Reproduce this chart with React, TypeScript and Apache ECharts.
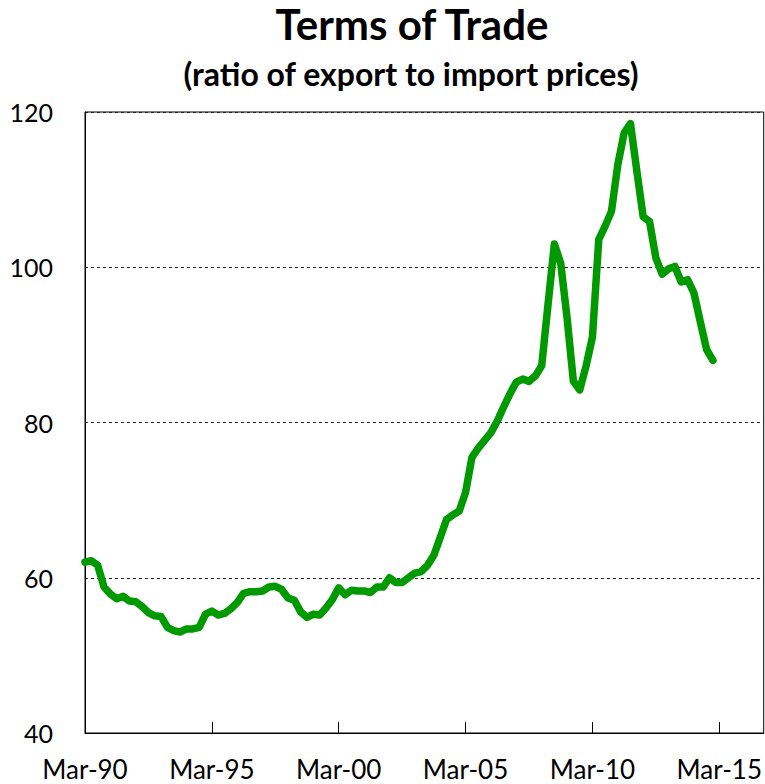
import React, { useEffect, useRef } from "react";
import * as echarts from "echarts";

const TITLE = "Terms of Trade";
const SUBTITLE = "(ratio of export to import prices)";

const MONTHS = ["Mar", "Jun", "Sep", "Dec"];
const START_YEAR = 1990;
const END_YEAR = 2016;

const categories: string[] = [];
for (let y = START_YEAR; y <= END_YEAR; y++) {
  for (const m of MONTHS) {
    categories.push(`${m}-${String(y % 100).padStart(2, "0")}`);
  }
}

const tradeValues: number[] = [
  62.0, 62.2, 61.6, 58.8, 57.9, 57.3, 57.6, 57.0, 56.9, 56.3, 55.5, 55.1,
  55.0, 53.6, 53.2, 53.0, 53.4, 53.4, 53.6, 55.3, 55.7, 55.2, 55.4, 56.0,
  56.8, 58.0, 58.2, 58.2, 58.3, 58.8, 58.9, 58.5, 57.4, 57.1, 55.6, 54.9,
  55.3, 55.2, 56.1, 57.2, 58.7, 57.8, 58.4, 58.3, 58.3, 58.1, 58.8, 58.8,
  60.0, 59.4, 59.4, 60.0, 60.6, 60.8, 61.6, 62.9, 65.2, 67.5, 68.1, 68.6,
  71.0, 75.5, 76.7, 77.7, 78.7, 80.2, 82.0, 83.7, 85.2, 85.6, 85.3, 86.0,
  87.3, 95.2, 103.0, 100.5, 93.5, 85.3, 84.2, 87.3, 91.0, 103.6, 105.3, 107.2,
  113.2, 117.3, 118.5, 112.4, 106.5, 105.9, 101.2, 99.1, 99.8, 100.1, 98.1, 98.4,
  96.7, 93.0, 89.4, 88.0,
];

const Y_MIN = 40;
const Y_MAX = 120;
const Y_STEP = 20;

const FONT = "Lato, 'Noto Sans', sans-serif";

export default function App() {
  const ref = useRef<HTMLDivElement>(null);

  useEffect(() => {
    if (!ref.current) return;
    const chart = echarts.init(ref.current, undefined, { renderer: "svg" });
    chart.setOption({
      animation: false,
      backgroundColor: "#ffffff",
      textStyle: { fontFamily: FONT },
      graphic: [
        {
          type: "text",
          x: 412,
          y: 24,
          style: {
            text: TITLE,
            fontFamily: FONT,
            fontWeight: "bold",
            fontSize: 42,
            fill: "#000",
            textAlign: "center",
            textVerticalAlign: "middle",
          },
        },
        {
          type: "text",
          x: 411,
          y: 73,
          style: {
            text: SUBTITLE,
            fontFamily: FONT,
            fontWeight: "bold",
            fontSize: 32,
            fill: "#000",
            textAlign: "center",
            textVerticalAlign: "middle",
          },
        },
      ],
      grid: {
        left: 85,
        top: 112,
        width: 681,
        height: 621,
        show: true,
        borderColor: "#000",
        borderWidth: 1,
        backgroundColor: "transparent",
      },
      xAxis: {
        type: "category",
        data: categories,
        boundaryGap: false,
        axisLine: { show: true, lineStyle: { color: "#000", width: 1 } },
        axisTick: {
          show: true,
          inside: true,
          length: 11,
          interval: 19,
          lineStyle: { color: "#000" },
        },
        axisLabel: {
          interval: 19,
          margin: 23,
          fontSize: 26,
          color: "#000",
          fontFamily: FONT,
          hideOverlap: false,
        },
        splitLine: { show: false },
      },
      yAxis: {
        type: "value",
        min: Y_MIN,
        max: Y_MAX,
        interval: Y_STEP,
        axisLine: { show: true, lineStyle: { color: "#000", width: 1 } },
        axisTick: { show: false },
        axisLabel: {
          margin: 32,
          fontSize: 25,
          color: "#000",
          fontFamily: FONT,
        },
        splitLine: {
          show: true,
          lineStyle: { color: "#222", type: [3, 3], width: 1 },
        },
      },
      series: [
        {
          type: "line",
          data: tradeValues,
          symbol: "none",
          lineStyle: { color: "#009900", width: 7.5, cap: "round", join: "round" },
          itemStyle: { color: "#009900" },
        },
      ],
    });
    return () => chart.dispose();
  }, []);

  return (
    <div
      ref={ref}
      style={{ position: "absolute", left: 0, top: 0, width: 765, height: 784 }}
    />
  );
}
